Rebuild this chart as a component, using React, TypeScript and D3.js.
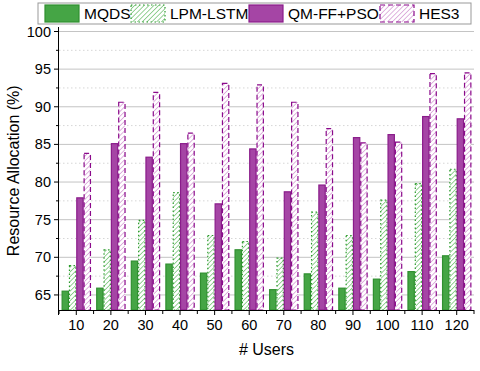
import React from 'react';
import * as d3 from 'd3';

const users = ['10', '20', '30', '40', '50', '60', '70', '80', '90', '100', '110', '120'];
const seriesNames = ['MQDS', 'LPM-LSTM', 'QM-FF+PSO', 'HES3'];
const mqds = [65.5, 65.9, 69.5, 69.1, 67.9, 71.0, 65.7, 67.8, 65.9, 67.1, 68.1, 70.2];
const lpmLstm = [68.9, 71.0, 74.9, 78.6, 72.9, 72.1, 69.9, 76.0, 72.9, 77.6, 79.8, 81.7];
const qmFfPso = [77.9, 85.1, 83.3, 85.1, 77.1, 84.4, 78.7, 79.6, 85.9, 86.3, 88.7, 88.4];
const hes3 = [83.8, 90.6, 91.9, 86.5, 93.1, 92.9, 90.6, 87.1, 85.2, 85.3, 94.4, 94.5];
const yTicks = [65, 70, 75, 80, 85, 90, 95, 100];
const yMinorTicks = [67.5, 72.5, 77.5, 82.5, 87.5, 92.5, 97.5];

const allSeries = [mqds, lpmLstm, qmFfPso, hes3];

// per-series look
const looks = [
  { fill: '#45a545', stroke: '#2f8f2f', dash: null as string | null },
  { fill: 'url(#hatchGreen)', stroke: '#2a9a2a', dash: '1.5,2.5' },
  { fill: '#a545a5', stroke: '#8a1c8a', dash: null },
  { fill: 'url(#hatchPurple)', stroke: '#8b0a8b', dash: '5,3' },
];
const legendSwatchX = [45, 131, 249, 380];

const W = 480;
const H = 371;
const m = { left: 59, right: 474, top: 31.5, bottom: 310 };
const font = '"Liberation Sans", Arial, sans-serif';

export default function App() {
  const x = d3.scaleBand<string>().domain(users).range([m.left, m.right]).padding(0);
  const inner = d3
    .scaleBand<string>()
    .domain(seriesNames)
    .range([0, x.bandwidth()])
    .paddingInner(0)
    .paddingOuter(0.36);
  const y = d3.scaleLinear().domain([63, 100]).range([m.bottom, m.top]);

  return (
    <div style={{ position: 'absolute', left: 0, top: 0 }}>
      <svg width={W} height={H} style={{ display: 'block', fontFamily: font }}>
        <defs>
          <pattern id="hatchGreen" patternUnits="userSpaceOnUse" width={3.4} height={3.4} patternTransform="rotate(45)">
            <rect width={3.4} height={3.4} fill="#fff" />
            <line x1={0} y1={0} x2={0} y2={3.4} stroke="#5fb85f" strokeWidth={1.3} />
          </pattern>
          <pattern id="hatchPurple" patternUnits="userSpaceOnUse" width={3.4} height={3.4} patternTransform="rotate(45)">
            <rect width={3.4} height={3.4} fill="#fff" />
            <line x1={0} y1={0} x2={0} y2={3.4} stroke="#cf8ccf" strokeWidth={1.3} />
          </pattern>
        </defs>

        {/* grid */}
        {yMinorTicks.map((t) => (
          <line key={'mg' + t} x1={m.left} x2={m.right} y1={y(t)} y2={y(t)} stroke="#d6d6d6" strokeDasharray="1.5,2.5" />
        ))}
        {yTicks.map((t) => (
          <line key={'g' + t} x1={m.left} x2={m.right} y1={y(t)} y2={y(t)} stroke="#c4c4c4" />
        ))}

        {/* bars */}
        {allSeries.map((vals, si) =>
          vals.map((v, i) => {
            const bx = (x(users[i]) as number) + (inner(seriesNames[si]) as number);
            const by = y(v);
            const look = looks[si];
            return (
              <rect
                key={si + '-' + i}
                x={bx + 0.5}
                y={by}
                width={inner.bandwidth() - 1}
                height={m.bottom - by}
                fill={look.fill}
                stroke={look.stroke}
                strokeWidth={1.2}
                strokeDasharray={look.dash || undefined}
              />
            );
          })
        )}

        {/* y axis */}
        <line x1={m.left - 0.5} x2={m.left - 0.5} y1={27} y2={m.bottom + 5} stroke="#000" />
        {yTicks.map((t) => (
          <g key={'yt' + t}>
            <line x1={m.left - 5} x2={m.left} y1={y(t)} y2={y(t)} stroke="#000" />
            <text x={m.left - 8} y={y(t)} dy="0.35em" textAnchor="end" fontSize={14.5}>
              {t}
            </text>
          </g>
        ))}
        {yMinorTicks.map((t) => (
          <line key={'ymt' + t} x1={m.left - 3} x2={m.left} y1={y(t)} y2={y(t)} stroke="#000" />
        ))}

        {/* x axis */}
        <line x1={m.left - 0.5} x2={m.right} y1={m.bottom + 0.5} y2={m.bottom + 0.5} stroke="#000" />
        {users.map((u) => {
          const cx = (x(u) as number) + x.bandwidth() / 2;
          return (
            <g key={'xt' + u}>
              <line x1={cx} x2={cx} y1={m.bottom} y2={m.bottom + 5} stroke="#000" />
              <line x1={(x(u) as number) + x.bandwidth()} x2={(x(u) as number) + x.bandwidth()} y1={m.bottom} y2={m.bottom + 4} stroke="#000" />
              <text x={cx} y={330} textAnchor="middle" fontSize={14.5}>
                {u}
              </text>
            </g>
          );
        })}
        <line x1={m.left} x2={m.left} y1={m.bottom} y2={m.bottom + 4} stroke="#000" />

        {/* titles */}
        <text x={(m.left + m.right) / 2} y={355} textAnchor="middle" fontSize={16}>
          # Users
        </text>
        <text
          transform={`translate(19,${(m.top + m.bottom) / 2}) rotate(-90)`}
          textAnchor="middle"
          fontSize={16}
        >
          Resource Allocation (%)
        </text>

        {/* legend */}
        <rect x={38} y={3} width={433} height={21} fill="#fff" stroke="#999" />
        {seriesNames.map((name, si) => {
          const look = looks[si];
          const lx = legendSwatchX[si];
          return (
            <g key={'lg' + name}>
              <rect
                x={lx}
                y={5}
                width={34}
                height={17}
                fill={look.fill}
                stroke={look.stroke}
                strokeWidth={1.2}
                strokeDasharray={look.dash || undefined}
              />
              <text x={lx + 39} y={18.5} fontSize={15.5}>
                {name}
              </text>
            </g>
          );
        })}
      </svg>
    </div>
  );
}
